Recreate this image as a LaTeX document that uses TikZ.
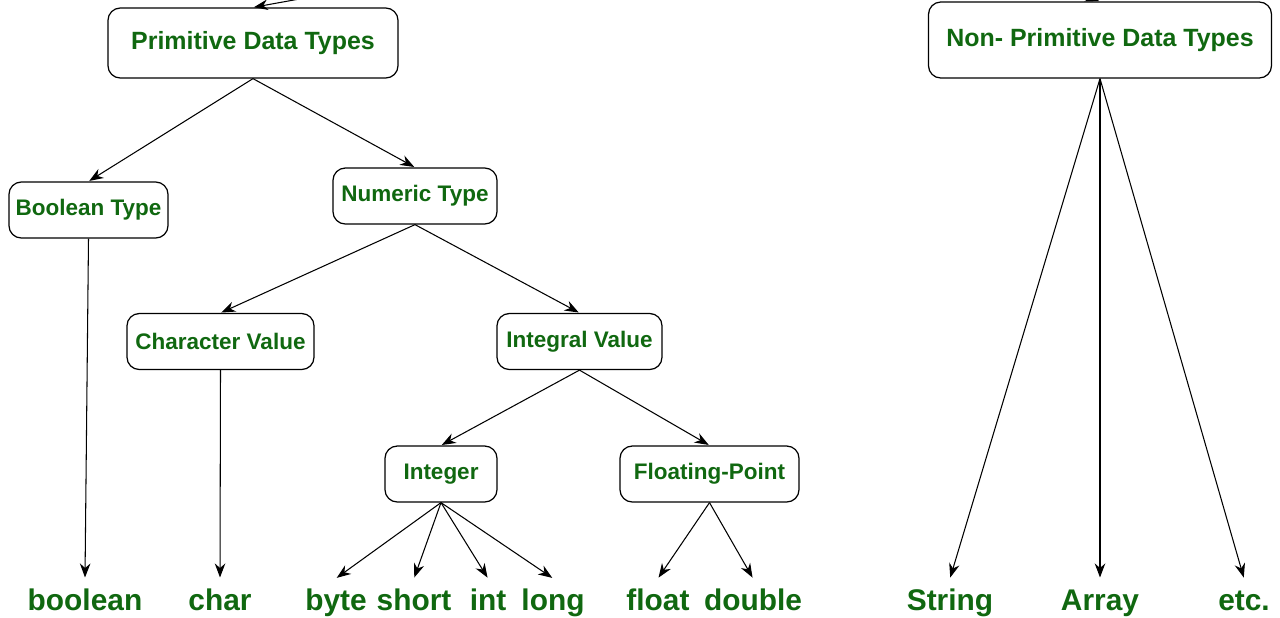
\documentclass[tikz,border=0pt]{standalone}
\usepackage{fontspec}
\setmainfont{Liberation Sans}
\usetikzlibrary{arrows.meta,positioning}
\definecolor{gfgreen}{RGB}{16,104,16}

\begin{document}
\begin{tikzpicture}[->,>={Stealth[length=8pt,width=6pt]},shorten >=0.5pt,
                    line width=0.6pt,
                    box/.style={draw, rounded corners=7pt, line width=0.7pt, text=gfgreen,
                                font=\bfseries\fontsize{12.8}{14}\selectfont, minimum height=1.12cm},
                    bigbox/.style={box, font=\bfseries\fontsize{14.2}{16}\selectfont, minimum height=1.4cm},
                    leaf/.style={text=gfgreen, font=\bfseries\fontsize{17}{19}\selectfont, anchor=base,
                                 text height=13pt, text depth=3.6pt, inner sep=2pt, outer sep=3pt}]

  \useasboundingbox (0,0) rectangle (25.6,-12.34);

  \node[bigbox, minimum width=5.8cm]  at (5.06,-0.86)  (prim)     {Primitive Data Types};
  \node[bigbox, minimum width=6.86cm, minimum height=1.52cm] at (22.0,-0.80) (nonprim) {Non- Primitive Data Types};
  \node[box, minimum width=3.18cm]    at (1.77,-4.20)  (bool)     {Boolean Type};
  \node[box, minimum width=3.28cm]    at (8.30,-3.92)  (num)      {Numeric Type};
  \node[box, minimum width=3.74cm]    at (4.41,-6.83)  (charval)  {Character Value};
  \node[box, minimum width=3.30cm]    at (11.59,-6.83) (intval)   {Integral Value};
  \node[box, minimum width=2.24cm]    at (8.82,-9.48)  (integer)  {Integer};
  \node[box, minimum width=3.58cm]    at (14.19,-9.48) (floating) {Floating-Point};

  % leaves
  \node[leaf] at (1.70,-12.2)  (boolean) {boolean};
  \node[leaf] at (4.40,-12.2)  (char)    {char};
  \node[leaf] at (6.72,-12.2)  (byte)    {byte};
  \node[leaf] at (8.28,-12.2)  (short)   {short};
  \node[leaf] at (9.76,-12.2)  (int)     {int};
  \node[leaf] at (11.06,-12.2) (long)    {long};
  \node[leaf] at (13.16,-12.2) (float)   {float};
  \node[leaf] at (15.06,-12.2) (double)  {double};
  \node[leaf] at (19.00,-12.2) (string)  {String};
  \node[leaf] at (22.00,-12.2) (array)   {Array};
  \node[leaf] at (24.88,-12.2) (etc)     {etc.};

  \coordinate (inprim) at (10.3,0.8);
  \coordinate (innon)  at (20.2,0.6);

  \path (inprim)        edge (prim.north)
        (innon)         edge (nonprim.north)
        (prim.south)    edge (bool.north)
                        edge (num.north)
        (bool.south)    edge (boolean.north)
        (num.south)     edge (charval.north)
                        edge (intval.north)
        (charval.south) edge (char.north)
        (intval.south)  edge (integer.north)
                        edge (floating.north)
        (integer.south) edge (byte.north)
                        edge (short.north)
                        edge (int.north)
                        edge (long.north)
        (floating.south) edge (float.north)
                        edge (double.north)
        (nonprim.south) edge (string.north)
                        edge (array.north)
                        edge (etc.north);

\end{tikzpicture}
\end{document}
